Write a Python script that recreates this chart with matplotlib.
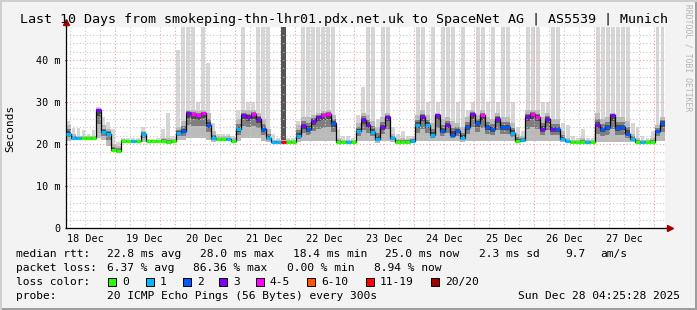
import datetime as dt
import numpy as np
import matplotlib
matplotlib.use('Agg')
import matplotlib.pyplot as plt
import matplotlib.dates as mdates
from matplotlib.patches import Rectangle

plt.rcParams['font.family'] = 'DejaVu Sans Mono'

# time frame of the graph (2 hour steps)
end = dt.datetime(2025, 12, 28, 4, 25, 28)
start = end - dt.timedelta(days=10)
step_h = 2

# median rtt per step (ms)
med = [22.5, 21.4, 21.4, 21.4, 21.4, 21.4, 28.0, 22.8, 22.5, 18.6,
       18.4, 20.7, 20.7, 20.7, 20.7, 22.4, 20.7, 20.7, 20.7, 20.7,
       20.5, 20.7, 22.7, 23.0, 27.4, 27.2, 26.9, 27.3, 24.5, 21.5,
       21.2, 21.2, 21.2, 20.7, 23.5, 27.0, 26.5, 27.2, 26.0, 23.5,
       21.5, 20.5, 20.5, 20.5, 20.5, 20.5, 22.0, 24.3, 23.5, 25.5,
       26.5, 27.0, 27.2, 25.0, 20.5, 20.5, 20.5, 20.5, 23.0, 25.8,
       24.5, 22.9, 21.2, 24.0, 26.5, 21.5, 20.5, 20.5, 20.5, 20.8,
       24.5, 26.5, 24.5, 22.2, 26.8, 23.0, 24.5, 22.2, 23.0, 21.4,
       24.0, 27.1, 25.0, 26.9, 24.0, 23.5, 26.0, 24.0, 24.0, 22.7,
       20.8, 21.0, 26.5, 27.2, 26.5, 23.5, 26.0, 23.5, 23.5, 21.2,
       20.6, 20.5, 20.4, 20.4, 20.4, 20.5, 24.5, 23.5, 24.0, 26.8,
       23.8, 24.0, 22.5, 21.2, 20.5, 20.4, 20.4, 20.4, 23.0, 25.0]

# loss class per step (index into loss_colors)
loss = [1, 1, 1, 0, 0, 0, 3, 1, 1, 0, 0, 0, 0, 1, 0, 1, 0, 0, 0, 0,
        0, 0, 1, 2, 3, 4, 4, 4, 2, 1, 0, 0, 1, 0, 1, 3, 3, 4, 3, 2,
        1, 1, 1, 6, 0, 0, 1, 3, 2, 3, 3, 4, 4, 2, 0, 0, 1, 0, 1, 3,
        3, 1, 1, 3, 3, 1, 0, 0, 0, 1, 1, 3, 1, 1, 3, 2, 3, 2, 2, 1,
        2, 3, 2, 4, 2, 2, 3, 2, 2, 1, 0, 1, 3, 4, 4, 3, 3, 3, 2, 1,
        1, 0, 0, 0, 1, 0, 3, 2, 2, 3, 2, 2, 2, 1, 0, 1, 0, 0, 2, 2]

# smoke: lowest ping, upper edge of dense smoke, max ping
lo = [20.8, 21.0, 21.0, 21.0, 21.0, 21.0, 21.5, 21.0, 19.5, 18.3,
      18.2, 20.5, 20.5, 20.5, 20.5, 20.5, 20.5, 20.5, 20.5, 20.5,
      20.4, 20.5, 21.0, 21.0, 21.5, 21.5, 21.5, 21.5, 21.0, 20.5,
      20.8, 20.8, 20.8, 20.5, 20.8, 21.5, 21.5, 21.5, 21.5, 20.8,
      20.5, 20.4, 20.4, 20.4, 20.4, 20.4, 20.5, 20.8, 20.8, 20.8,
      20.8, 20.8, 20.8, 20.8, 20.4, 20.4, 20.4, 20.4, 20.8, 20.8,
      20.8, 20.8, 20.3, 20.8, 20.8, 20.5, 20.4, 20.4, 20.4, 20.5,
      20.8, 20.8, 20.8, 20.8, 20.8, 20.8, 20.8, 20.8, 20.8, 20.5,
      20.8, 20.8, 20.8, 20.8, 20.8, 20.8, 20.8, 20.8, 20.8, 20.8,
      20.5, 20.5, 20.8, 20.8, 20.8, 20.8, 20.8, 20.8, 20.8, 20.5,
      20.4, 20.4, 20.3, 20.3, 20.3, 20.4, 20.5, 20.5, 20.5, 20.5,
      20.5, 20.5, 20.5, 20.5, 20.4, 20.3, 20.3, 20.3, 20.8, 20.8]
hi = [24.5, 22.5, 22.0, 21.8, 21.8, 22.0, 28.6, 24.5, 23.5, 20.0,
      19.5, 21.2, 21.0, 21.0, 21.0, 23.2, 21.0, 21.0, 21.0, 21.5,
      21.5, 21.2, 24.0, 25.5, 28.2, 28.0, 27.8, 28.0, 27.5, 23.0,
      21.8, 21.8, 21.8, 21.4, 26.0, 28.0, 28.0, 28.0, 27.5, 26.0,
      23.5, 21.0, 21.0, 21.0, 21.0, 21.0, 24.5, 26.5, 26.5, 27.0,
      27.5, 27.8, 28.0, 27.0, 21.5, 21.0, 21.0, 21.0, 25.0, 27.5,
      27.0, 25.5, 24.0, 26.5, 27.5, 22.5, 21.2, 21.5, 21.2, 21.5,
      27.0, 28.0, 27.0, 25.0, 27.5, 26.0, 26.5, 25.5, 25.0, 24.0,
      26.5, 28.0, 27.0, 28.0, 26.5, 26.0, 27.5, 26.5, 26.5, 25.0,
      22.5, 22.0, 28.0, 28.0, 28.0, 26.5, 27.5, 26.0, 26.0, 23.0,
      21.5, 21.0, 21.0, 21.5, 21.0, 21.0, 27.5, 26.0, 26.5, 27.5,
      26.5, 26.5, 25.5, 22.5, 21.5, 21.0, 21.0, 21.5, 24.5, 26.5]
top = [25.5, 23.8, 23.8, 23.3, 22.5, 23.3, 28.8, 26.5, 25.3, 23.5,
       20.5, 21.5, 21.4, 21.4, 21.4, 24.0, 21.2, 21.2, 21.5, 23.5,
       27.4, 22.0, 42.4, 48.0, 48.0, 48.0, 30.0, 48.0, 39.3, 25.0,
       22.5, 22.5, 22.5, 21.8, 28.0, 48.0, 30.0, 30.0, 48.0, 48.0,
       48.0, 22.5, 21.5, 48.0, 21.5, 21.5, 25.5, 48.0, 48.0, 48.0,
       48.0, 48.0, 48.0, 48.0, 23.5, 22.0, 22.0, 21.5, 27.0, 33.6,
       48.0, 48.0, 26.0, 48.0, 48.0, 24.0, 22.5, 23.0, 22.0, 22.0,
       48.0, 48.0, 30.0, 48.0, 30.0, 48.0, 48.0, 48.0, 30.0, 48.0,
       28.0, 30.0, 48.0, 48.0, 30.0, 48.0, 30.0, 48.0, 48.0, 30.0,
       24.0, 23.0, 48.0, 48.0, 48.0, 30.0, 30.0, 48.0, 48.0, 25.0,
       24.5, 22.0, 21.5, 23.5, 21.5, 21.5, 48.0, 48.0, 48.0, 48.0,
       48.0, 48.0, 48.0, 25.0, 24.0, 22.0, 21.5, 23.0, 48.0, 48.0]

loss_colors = ['#26ff00', '#00b8ff', '#0059ff', '#7e00ff',
               '#ff00ff', '#ff5500', '#ff0000', '#a10000']
loss_labels = ['0', '1', '2', '3', '4-5', '6-10', '11-19', '20/20']

day_labels = ['18 Dec', '19 Dec', '20 Dec', '21 Dec', '22 Dec',
              '23 Dec', '24 Dec', '25 Dec', '26 Dec', '27 Dec']
y_ticks = [0, 10, 20, 30, 40]
y_labels = ['0', '10 m', '20 m', '30 m', '40 m']

W, H = 697, 310


def fx(px):
    return px / W


def fy(py):
    return 1 - py / H


fig = plt.figure(figsize=(W / 100, H / 100), dpi=100, facecolor='#f3f3f3')
ax = fig.add_axes([fx(66), fy(228), 599 / W, 201 / H])
ax.set_facecolor('white')

med = np.array(med)
lo = np.array(lo)
hi = np.array(hi)
top = np.array(top)
times = [start + dt.timedelta(hours=step_h * i) for i in range(len(med))]
tn = mdates.date2num(times)
w = step_h / 24.0

# smoke: max pings as light spikes, heavy loss as dark full bars
heavy = np.array([k >= 6 for k in loss])
ax.bar(tn[~heavy] + w / 2, (top - lo)[~heavy], bottom=lo[~heavy], width=w * 0.78,
       align='center', color='#d6d6d6', lw=0, zorder=1)
ax.bar(tn[heavy], (top - lo)[heavy], bottom=lo[heavy], width=w, align='edge',
       color='#555555', lw=0, zorder=1)
ax.bar(tn, hi - lo, bottom=lo, width=w, align='edge', color='#bababa', lw=0, zorder=1)
b1 = (lo + med) / 2
t1 = (med + hi) / 2
ax.bar(tn, t1 - b1, bottom=b1, width=w, align='edge', color='#7e7e7e', lw=0, zorder=1)
b2 = med - (med - lo) * 0.2
t2 = med + (hi - med) * 0.25
ax.bar(tn, t2 - b2, bottom=b2, width=w, align='edge', color='#4a4a4a', lw=0, zorder=1)

# grid
g = dt.datetime(2025, 12, 18)
while g <= end:
    if g >= start:
        if g.hour == 0:
            ax.axvline(g, color='#f2a0a0', lw=0.8, ls=(0, (1, 2)), zorder=2)
        else:
            ax.axvline(g, color='#c8c8c8', lw=0.8, ls=(0, (1, 2)), zorder=2)
    g += dt.timedelta(hours=6)
for v in range(2, 48, 2):
    if v % 10 == 0:
        ax.axhline(v, color='#f2a0a0', lw=0.8, ls=(0, (1, 2)), zorder=2)
    else:
        ax.axhline(v, color='#c8c8c8', lw=0.8, ls=(0, (1, 2)), zorder=2)

# median line coloured by loss
ax.step(np.append(tn, tn[-1] + w), np.append(med, med[-1]), where='post',
        color='black', lw=0.9, zorder=3)
ax.hlines(med, tn, tn + w, colors=[loss_colors[k] for k in loss], lw=2.3, zorder=4)

ax.set_xlim(mdates.date2num(start), mdates.date2num(end))
ax.set_ylim(0, 47.86)

for s in ['top', 'right']:
    ax.spines[s].set_visible(False)
ax.spines['left'].set_linewidth(0.9)
ax.spines['bottom'].set_linewidth(0.9)

noon = [mdates.date2num(dt.datetime(2025, 12, 18 + i, 12)) for i in range(len(day_labels))]
ax.set_xticks(noon)
ax.set_xticklabels(day_labels, fontsize=7.3)
ax.tick_params(axis='x', length=0, pad=4)
ax.set_yticks(y_ticks)
ax.set_yticklabels(y_labels, fontsize=7.3)
ax.tick_params(axis='y', length=2, pad=3, direction='inout')

# axis arrows
ax.plot([0, 0], [1, 1.025], transform=ax.transAxes, color='black', lw=0.9, clip_on=False)
ax.plot([1, 1.008], [0, 0], transform=ax.transAxes, color='black', lw=0.9, clip_on=False)
ax.plot([0], [1.025], marker='^', ms=4.5, color='#a10000', transform=ax.transAxes, clip_on=False)
ax.plot([1.008], [0], marker='>', ms=4.5, color='#a10000', transform=ax.transAxes, clip_on=False)

# texts
fig.text(fx(344), fy(19), 'Last 10 Days from smokeping-thn-lhr01.pdx.net.uk to SpaceNet AG | AS5539 | Munich',
         ha='center', va='center', fontsize=9.6)
fig.text(fx(10), fy(128), 'Seconds', rotation=90, ha='center', va='center', fontsize=8)
fig.text(fx(688), fy(4), 'RRDTOOL / TOBI OETIKER', rotation=270, ha='center', va='top',
         fontsize=5.8, color='#b4b4b4')

fs = 8.1
row1 = [(16, 'median rtt:'), (107, '22.8 ms avg'), (200, '28.0 ms max'), (293, '18.4 ms min'),
        (385, '25.0 ms now'), (479, '2.3 ms sd'), (565, '9.7'), (600, 'am/s')]
row2 = [(16, 'packet loss:'), (107, '6.37 % avg'), (193, '86.36 % max'), (287, '0.00 % min'),
        (374, '8.94 % now')]
for x, s in row1:
    fig.text(fx(x), fy(254), s, ha='left', va='center', fontsize=fs)
for x, s in row2:
    fig.text(fx(x), fy(268), s, ha='left', va='center', fontsize=fs)

fig.text(fx(16), fy(282), 'loss color:', ha='left', va='center', fontsize=fs)
box_x = [108, 146, 183, 219, 256, 307, 366, 431]
for x, c, lab in zip(box_x, loss_colors, loss_labels):
    fig.add_artist(Rectangle((fx(x), fy(286)), 8 / W, 8 / H, transform=fig.transFigure,
                             facecolor=c, edgecolor='black', lw=0.7))
    fig.text(fx(x + 14), fy(282), lab, ha='left', va='center', fontsize=fs)

fig.text(fx(16), fy(296), 'probe:', ha='left', va='center', fontsize=fs)
fig.text(fx(107), fy(296), '20 ICMP Echo Pings (56 Bytes) every 300s', ha='left', va='center', fontsize=fs)
fig.text(fx(680), fy(296), 'Sun Dec 28 04:25:28 2025', ha='right', va='center', fontsize=fs)

# 3d frame
fig.add_artist(Rectangle((0, 0), 1, 2 / H, transform=fig.transFigure, color='#9e9e9e', lw=0))
fig.add_artist(Rectangle((1 - 2 / W, 0), 2 / W, 1, transform=fig.transFigure, color='#9e9e9e', lw=0))
fig.add_artist(Rectangle((0, 1 - 2 / H), 1, 2 / H, transform=fig.transFigure, color='#cfcfcf', lw=0))
fig.add_artist(Rectangle((0, 0), 2 / W, 1, transform=fig.transFigure, color='#cfcfcf', lw=0))

fig.savefig('out.png', dpi=100, facecolor=fig.get_facecolor())
